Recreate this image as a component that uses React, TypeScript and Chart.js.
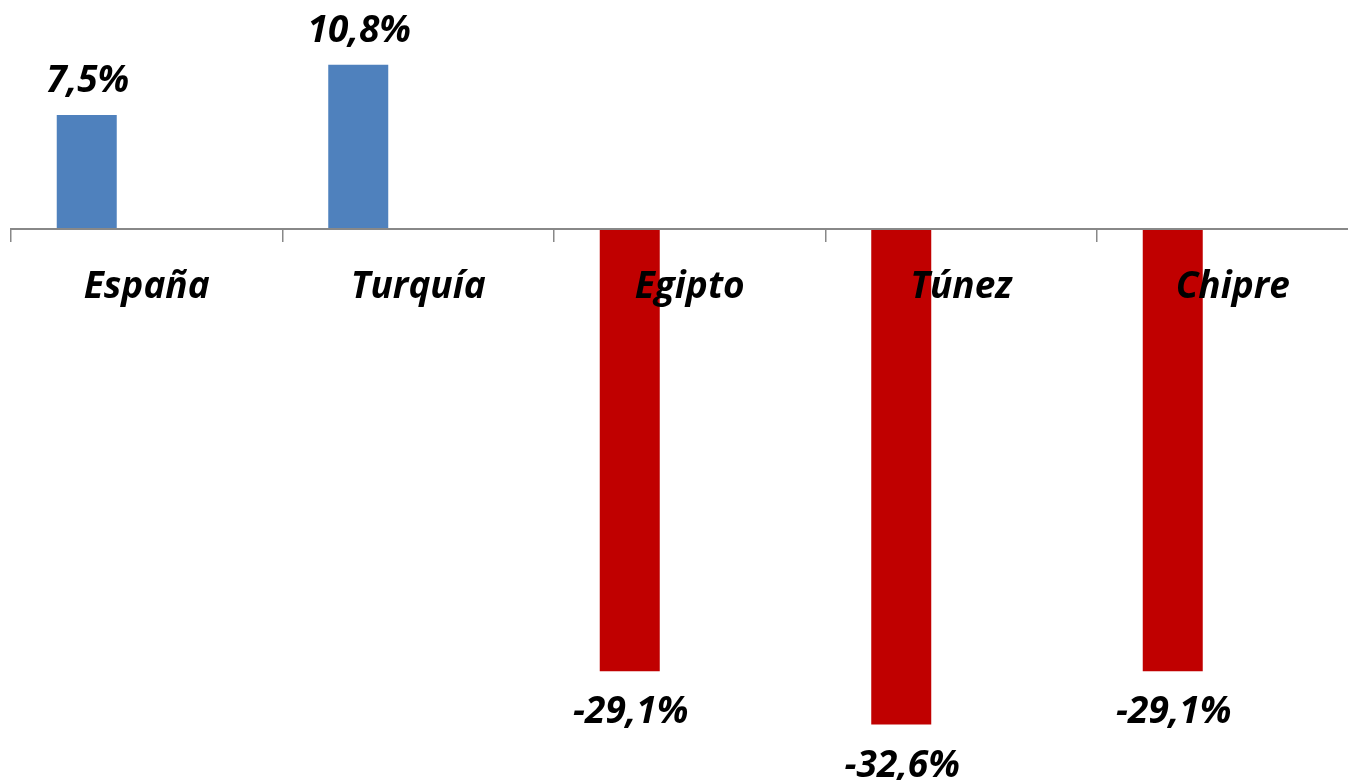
import React, { useEffect, useRef } from "react";
import { Chart, registerables } from "chart.js";

Chart.register(...registerables);

const categories = ["España", "Turquía", "Egipto", "Túnez", "Chipre"];
const values = [7.5, 10.8, -29.1, -32.6, -29.1];
const emptySeries = [null, null, null, null, null];
const positiveColor = "#4F81BD";
const negativeColor = "#C00000";
const FONT = "'Open Sans', 'Liberation Sans', sans-serif";
const FONT_SIZE = 37;

const formatPct = (v: number) => v.toFixed(1).replace(".", ",") + "%";

const dataLabelPlugin = {
  id: "dataLabels",
  afterDatasetsDraw(chart: any) {
    const ctx = chart.ctx;
    const meta = chart.getDatasetMeta(0);
    ctx.save();
    ctx.font = `italic bold ${FONT_SIZE}px ${FONT}`;
    ctx.fillStyle = "#000";
    ctx.textAlign = "center";
    ctx.textBaseline = "alphabetic";
    meta.data.forEach((bar: any, i: number) => {
      const v = values[i];
      const y = v >= 0 ? bar.y - 23 : bar.y + 52;
      ctx.fillText(formatPct(v), bar.x + 1, y);
    });
    ctx.restore();
  },
};

export default function App() {
  const ref = useRef<HTMLCanvasElement | null>(null);
  useEffect(() => {
    if (!ref.current) return;
    const chart = new Chart(ref.current, {
      type: "bar",
      data: {
        labels: categories,
        datasets: [
          {
            data: values,
            backgroundColor: values.map((v) => (v >= 0 ? positiveColor : negativeColor)),
            borderWidth: 0,
          },
          {
            data: emptySeries as any,
            backgroundColor: "#ffffff",
          },
        ],
      },
      options: {
        animation: false,
        responsive: false,
        maintainAspectRatio: false,
        datasets: { bar: { categoryPercentage: 0.884, barPercentage: 0.5 } },
        layout: { padding: { left: 11, right: 11.5, top: 1, bottom: 19 } },
        plugins: { legend: { display: false }, tooltip: { enabled: false } },
        scales: {
          x: {
            position: { y: 0 } as any,
            grid: {
              display: true,
              drawOnChartArea: false,
              drawTicks: true,
              tickLength: 12,
              color: "#888888",
              lineWidth: 1.5,
              offset: true,
              z: 1,
            } as any,
            border: { display: true, color: "#888888", width: 2, z: 1 } as any,
            ticks: {
              color: "#000",
              padding: 24,
              maxRotation: 0,
              autoSkip: false,
              z: 2,
              font: { family: FONT, size: FONT_SIZE, style: "italic", weight: "bold" },
            },
          },
          y: {
            display: false,
            min: -35,
            max: 15,
          },
        },
      },
      plugins: [dataLabelPlugin],
    });
    return () => chart.destroy();
  }, []);
  return (
    <div style={{ position: "fixed", left: 0, top: 0, width: 1348, height: 780, overflow: "hidden", background: "#fff" }}>
      <canvas ref={ref} width={1380} height={780} style={{ width: 1380, height: 780, display: "block" }} />
    </div>
  );
}
